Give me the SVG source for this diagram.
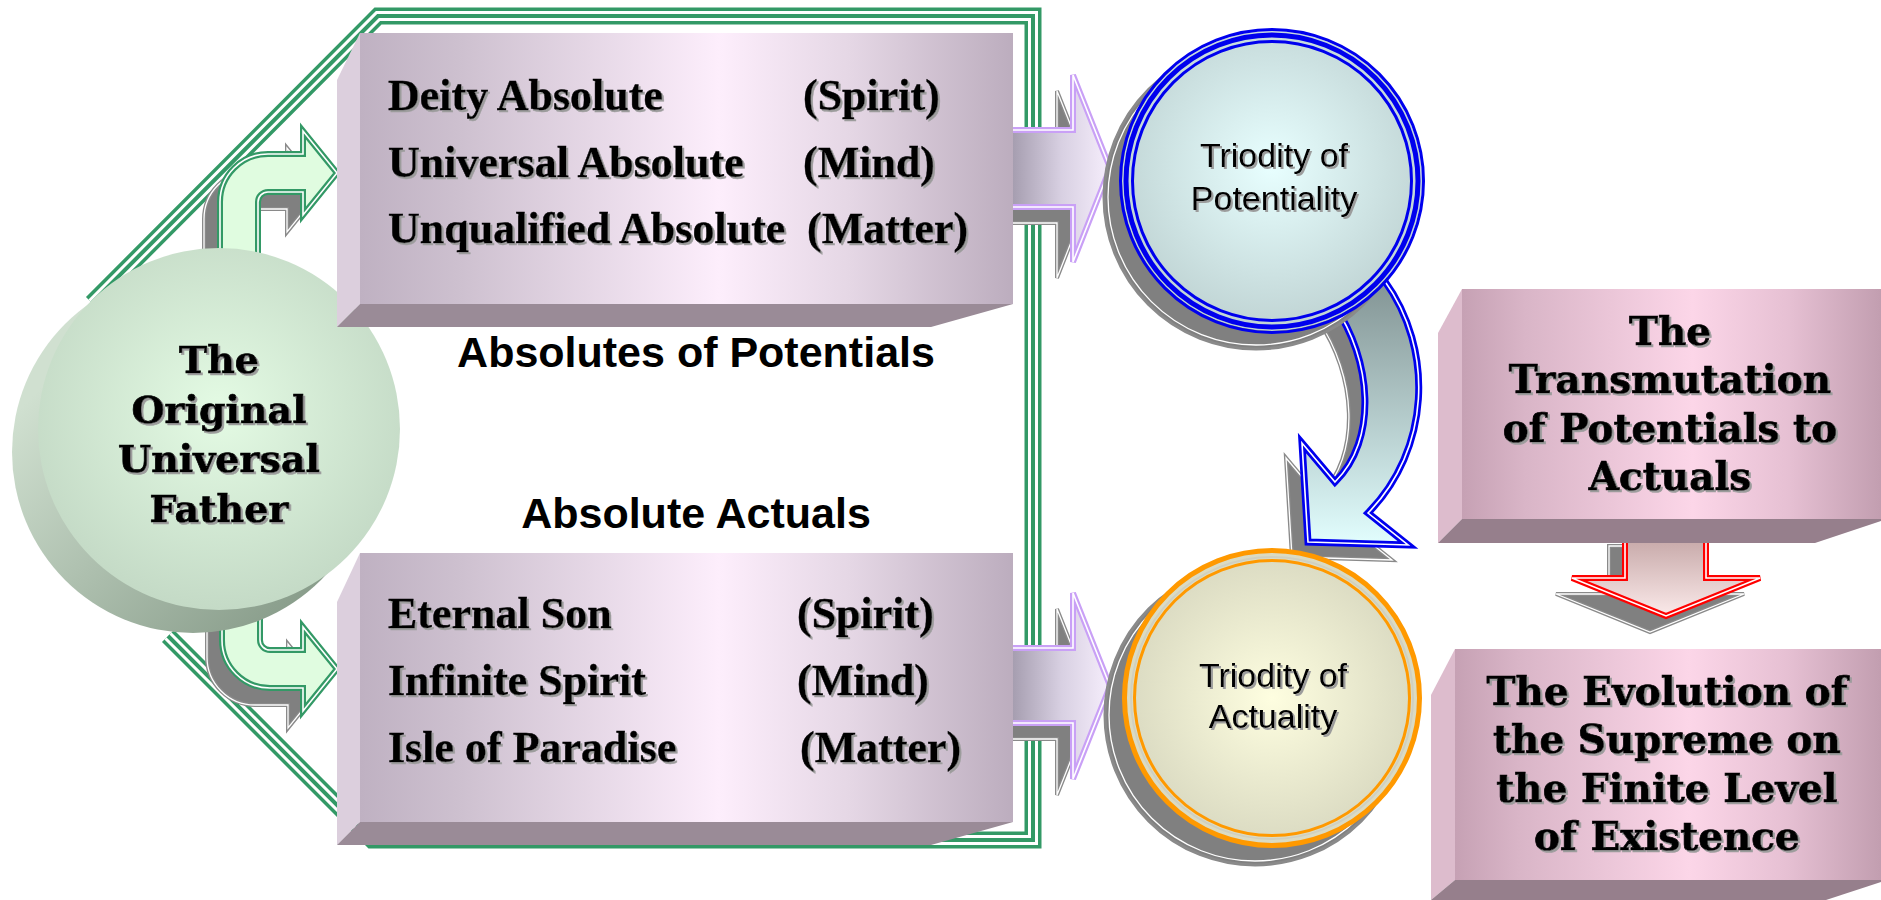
<svg xmlns="http://www.w3.org/2000/svg" width="1881" height="900" viewBox="0 0 1881 900">
<defs>
<style>
.ser{font-family:"DejaVu Serif","Liberation Serif",serif;font-weight:bold;font-size:38px;fill:#000;stroke:#000;stroke-width:0.7;text-anchor:middle}
.ser2{font-size:39px}
.tms{font-family:"Liberation Serif","Times New Roman",serif;font-weight:bold;font-size:44px;fill:#000;stroke:#000;stroke-width:0.4}
.lbl{font-family:"Liberation Sans",Arial,sans-serif;font-weight:bold;font-size:43px;fill:#000;text-anchor:middle}
.tri{font-family:"Liberation Sans",Arial,sans-serif;font-size:34px;fill:#000;text-anchor:middle}
.shd{fill:#808080;stroke:#8a8a8a;stroke-width:4;stroke-linejoin:miter}
.shdl{fill:none;stroke:#fff;stroke-width:1.3}
</style>
<filter id="ts" x="-5%" y="-20%" width="115%" height="150%">
<feDropShadow dx="2" dy="2" stdDeviation="0.6" flood-color="#9c9c9c" flood-opacity="1"/>
</filter>
<linearGradient id="gBox" x1="0" y1="0" x2="1" y2="0">
<stop offset="0" stop-color="#bfb1c2"/><stop offset="0.15" stop-color="#cdc0cf"/><stop offset="0.55" stop-color="#fdeefc"/><stop offset="0.75" stop-color="#e5d7e5"/><stop offset="1" stop-color="#bcadbe"/>
</linearGradient>
<linearGradient id="gPink" x1="0" y1="0" x2="1" y2="0">
<stop offset="0" stop-color="#c6a1b4"/><stop offset="0.15" stop-color="#d9b5c7"/><stop offset="0.55" stop-color="#fcd6e8"/><stop offset="0.78" stop-color="#e6c0d3"/><stop offset="1" stop-color="#c29eb0"/>
</linearGradient>
<radialGradient id="gFront" cx="0.5" cy="0.45" r="0.55">
<stop offset="0" stop-color="#e4fbe4"/><stop offset="1" stop-color="#c4dac6"/>
</radialGradient>
<linearGradient id="gBack" x1="0" y1="0" x2="1" y2="1">
<stop offset="0.2" stop-color="#d0e0d0"/><stop offset="0.85" stop-color="#8a9e8c"/>
</linearGradient>
<radialGradient id="gBlue" cx="0.5" cy="0.45" r="0.55">
<stop offset="0" stop-color="#e8ffff"/><stop offset="1" stop-color="#bfd3d3"/>
</radialGradient>
<radialGradient id="gOrange" cx="0.5" cy="0.5" r="0.55">
<stop offset="0" stop-color="#fefee0"/><stop offset="1" stop-color="#d6d6be"/>
</radialGradient>
<linearGradient id="gPurp1" gradientUnits="userSpaceOnUse" x1="1013" y1="0" x2="1110" y2="0">
<stop offset="0" stop-color="#a69eb0"/><stop offset="0.5" stop-color="#d8d0e2"/><stop offset="1" stop-color="#f6eefc"/>
</linearGradient>
<linearGradient id="gBlueArr" gradientUnits="userSpaceOnUse" x1="0" y1="290" x2="0" y2="545">
<stop offset="0" stop-color="#869898"/><stop offset="1" stop-color="#e2fefe"/>
</linearGradient>
<linearGradient id="gRed" gradientUnits="userSpaceOnUse" x1="0" y1="540" x2="0" y2="616">
<stop offset="0" stop-color="#c8aaaa"/><stop offset="1" stop-color="#fbeaea"/>
</linearGradient>
</defs>
<rect width="1881" height="900" fill="#fff"/>

<g id="connectors">
  <g fill="none" stroke-linejoin="miter">
    <path d="M92,303 L378,16 L1033,16 L1033,840 L372,840 L168,636" stroke="#339966" stroke-width="17"/>
    <path d="M92,303 L378,16 L1033,16 L1033,840 L372,840 L168,636" stroke="#fff" stroke-width="10"/>
    <path d="M92,303 L378,16 L1033,16 L1033,840 L372,840 L168,636" stroke="#339966" stroke-width="4"/>
  </g>
  <path class="shd" transform="translate(-16,17)" d="M220,265 L220,202 A48,48 0 0 1 268,154 L303,154 L303,131 L337,173 L303,215 L303,192 L268,192 A10,10 0 0 0 258,202 L258,265 Z"/>
  <path class="shdl" transform="translate(-16,17)" d="M220,265 L220,202 A48,48 0 0 1 268,154 L303,154 L303,131 L337,173 L303,215 L303,192 L268,192 A10,10 0 0 0 258,202 L258,265 Z"/>
  <path d="M220,265 L220,202 A48,48 0 0 1 268,154 L303,154 L303,131 L337,173 L303,215 L303,192 L268,192 A10,10 0 0 0 258,202 L258,265 Z" fill="#e0fce0" stroke="#339966" stroke-width="6"/>
  <path d="M220,265 L220,202 A48,48 0 0 1 268,154 L303,154 L303,131 L337,173 L303,215 L303,192 L268,192 A10,10 0 0 0 258,202 L258,265 Z" fill="none" stroke="#fff" stroke-width="1.6"/>

  <path class="shd" transform="translate(-15,17)" d="M222,595 L222,640 A48,48 0 0 0 270,688 L303,688 L303,711 L337,669 L303,627 L303,650 L270,650 A10,10 0 0 1 260,640 L260,595 Z"/>
  <path class="shdl" transform="translate(-15,17)" d="M222,595 L222,640 A48,48 0 0 0 270,688 L303,688 L303,711 L337,669 L303,627 L303,650 L270,650 A10,10 0 0 1 260,640 L260,595 Z"/>
  <path d="M222,595 L222,640 A48,48 0 0 0 270,688 L303,688 L303,711 L337,669 L303,627 L303,650 L270,650 A10,10 0 0 1 260,640 L260,595 Z" fill="#e0fce0" stroke="#339966" stroke-width="6"/>
  <path d="M222,595 L222,640 A48,48 0 0 0 270,688 L303,688 L303,711 L337,669 L303,627 L303,650 L270,650 A10,10 0 0 1 260,640 L260,595 Z" fill="none" stroke="#fff" stroke-width="1.6"/>

  <path class="shd" transform="translate(-16,16)" d="M1000,130 L1073,130 L1073,75 L1110,168 L1073,262 L1073,207 L1000,207 Z"/>
  <path class="shdl" transform="translate(-16,16)" d="M1000,130 L1073,130 L1073,75 L1110,168 L1073,262 L1073,207 L1000,207 Z"/>
  <path d="M1000,130 L1073,130 L1073,75 L1110,168 L1073,262 L1073,207 L1000,207 Z" fill="url(#gPurp1)" stroke="#c9a0f6" stroke-width="6"/>
  <path d="M1000,130 L1073,130 L1073,75 L1110,168 L1073,262 L1073,207 L1000,207 Z" fill="none" stroke="#fff" stroke-width="1.6"/>

  <path class="shd" transform="translate(-16,16)" d="M1000,648 L1073,648 L1073,593 L1110,686 L1073,779 L1073,723 L1000,723 Z"/>
  <path class="shdl" transform="translate(-16,16)" d="M1000,648 L1073,648 L1073,593 L1110,686 L1073,779 L1073,723 L1000,723 Z"/>
  <path d="M1000,648 L1073,648 L1073,593 L1110,686 L1073,779 L1073,723 L1000,723 Z" fill="url(#gPurp1)" stroke="#c9a0f6" stroke-width="6"/>
  <path d="M1000,648 L1073,648 L1073,593 L1110,686 L1073,779 L1073,723 L1000,723 Z" fill="none" stroke="#fff" stroke-width="1.6"/>

  <path class="shd" transform="translate(-16,15)" d="M1334,305 C1372,360 1378,440 1335,482 L1302,443 L1308,542 L1408,545 L1368,513 C1430,450 1435,350 1384,280 Z"/>
  <path class="shdl" transform="translate(-16,15)" d="M1334,305 C1372,360 1378,440 1335,482 L1302,443 L1308,542 L1408,545 L1368,513 C1430,450 1435,350 1384,280 Z"/>
  <path d="M1334,305 C1372,360 1378,440 1335,482 L1302,443 L1308,542 L1408,545 L1368,513 C1430,450 1435,350 1384,280 Z" fill="url(#gBlueArr)" stroke="#0000ee" stroke-width="7"/>
  <path d="M1334,305 C1372,360 1378,440 1335,482 L1302,443 L1308,542 L1408,545 L1368,513 C1430,450 1435,350 1384,280 Z" fill="none" stroke="#fff" stroke-width="1.6"/>

  <path class="shd" transform="translate(-16,16)" d="M1625,530 L1706,530 L1706,578 L1760,578 L1666,616 L1572,578 L1625,578 Z"/>
  <path class="shdl" transform="translate(-16,16)" d="M1625,530 L1706,530 L1706,578 L1760,578 L1666,616 L1572,578 L1625,578 Z"/>
  <path d="M1625,530 L1706,530 L1706,578 L1760,578 L1666,616 L1572,578 L1625,578 Z" fill="url(#gRed)" stroke="#ff0000" stroke-width="6"/>
  <path d="M1625,530 L1706,530 L1706,578 L1760,578 L1666,616 L1572,578 L1625,578 Z" fill="none" stroke="#fff" stroke-width="1.6"/>
</g>

<g id="father">
  <circle cx="193" cy="452" r="181" fill="url(#gBack)"/>
  <circle cx="219" cy="429" r="181" fill="url(#gFront)"/>
  <g class="ser" filter="url(#ts)">
    <text x="219" y="373">The</text>
    <text x="219" y="423">Original</text>
    <text x="219" y="472">Universal</text>
    <text x="219" y="522">Father</text>
  </g>
</g>

<g id="absolutes-potentials">
  <polygon points="360,33 337,80 337,327 360,304" fill="#dccfdd"/>
  <polygon points="360,304 1013,304 931,327 337,327" fill="#9a8b97"/>
  <rect x="360" y="33" width="653" height="271" fill="url(#gBox)"/>
  <g class="tms" filter="url(#ts)">
    <text x="388" y="110">Deity Absolute</text>
    <text x="803" y="110">(Spirit)</text>
    <text x="388" y="177">Universal Absolute</text>
    <text x="803" y="177">(Mind)</text>
    <text x="388" y="243">Unqualified Absolute</text>
    <text x="807" y="243">(Matter)</text>
  </g>
  <text class="lbl" x="696" y="367">Absolutes of Potentials</text>
</g>

<g id="absolute-actuals">
  <text class="lbl" x="696" y="528">Absolute Actuals</text>
  <polygon points="360,553 337,602 337,845 360,822" fill="#dccfdd"/>
  <polygon points="360,822 1013,822 931,845 337,845" fill="#9a8b97"/>
  <rect x="360" y="553" width="653" height="269" fill="url(#gBox)"/>
  <g class="tms" filter="url(#ts)">
    <text x="388" y="628">Eternal Son</text>
    <text x="797" y="628">(Spirit)</text>
    <text x="388" y="695">Infinite Spirit</text>
    <text x="797" y="695">(Mind)</text>
    <text x="388" y="762">Isle of Paradise</text>
    <text x="800" y="762">(Matter)</text>
  </g>
</g>

<g id="triodity-potentiality">
  <circle cx="1256" cy="197" r="152" fill="#808080" stroke="#8a8a8a" stroke-width="3"/>
  <circle cx="1256" cy="197" r="148" fill="none" stroke="#fff" stroke-width="1.3"/>
  <circle cx="1272" cy="181" r="150" fill="url(#gBlue)"/>
  <circle cx="1272" cy="181" r="151.5" fill="none" stroke="#0000ee" stroke-width="3"/>
  <circle cx="1272" cy="181" r="146" fill="none" stroke="#0000ee" stroke-width="5"/>
  <circle cx="1272" cy="181" r="139.5" fill="none" stroke="#0000ee" stroke-width="3"/>
  <g class="tri" filter="url(#ts)">
    <text x="1274" y="167">Triodity of</text>
    <text x="1274" y="210">Potentiality</text>
  </g>
</g>

<g id="triodity-actuality">
  <circle cx="1255" cy="715" r="150" fill="#808080" stroke="#8a8a8a" stroke-width="3"/>
  <circle cx="1255" cy="715" r="146" fill="none" stroke="#fff" stroke-width="1.3"/>
  <circle cx="1272" cy="698" r="148" fill="url(#gOrange)"/>
  <circle cx="1272" cy="698" r="147.5" fill="none" stroke="#ff9900" stroke-width="5"/>
  <circle cx="1272" cy="698" r="141" fill="none" stroke="#d0d0c0" stroke-width="2"/>
  <circle cx="1272" cy="698" r="137.5" fill="none" stroke="#ff9900" stroke-width="3"/>
  <g class="tri" filter="url(#ts)">
    <text x="1273" y="687">Triodity of</text>
    <text x="1273" y="728">Actuality</text>
  </g>
</g>

<g id="transmutation">
  <polygon points="1462,289 1438,333 1438,543 1462,519" fill="#ddbccd"/>
  <polygon points="1462,519 1881,519 1881,521 1815,543 1438,543" fill="#967f8c"/>
  <rect x="1462" y="289" width="419" height="230" fill="url(#gPink)"/>
  <g class="ser ser2" filter="url(#ts)">
    <text x="1670" y="345">The</text>
    <text x="1670" y="393">Transmutation</text>
    <text x="1670" y="442">of Potentials to</text>
    <text x="1670" y="490">Actuals</text>
  </g>
</g>

<g id="evolution">
  <polygon points="1455,649 1431,695 1431,900 1455,880" fill="#ddbccd"/>
  <polygon points="1455,880 1881,880 1881,882 1826,900 1431,900" fill="#967f8c"/>
  <rect x="1455" y="649" width="426" height="231" fill="url(#gPink)"/>
  <g class="ser ser2" filter="url(#ts)">
    <text x="1667" y="705">The Evolution of</text>
    <text x="1667" y="753">the Supreme on</text>
    <text x="1667" y="802">the Finite Level</text>
    <text x="1667" y="850">of Existence</text>
  </g>
</g>
</svg>
